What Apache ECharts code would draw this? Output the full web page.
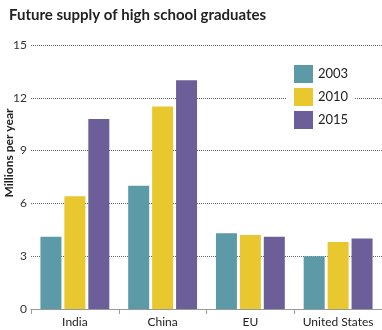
<!DOCTYPE html>
<html><head><meta charset="utf-8">
<script src="https://cdn.jsdelivr.net/npm/echarts@6/dist/echarts.min.js"></script>
<style>html,body{margin:0;padding:0;background:#fff}#c{width:382px;height:330px}</style>
</head><body><div id="c"></div>
<script>
const categories = ["India", "China", "EU", "United States"];
const years = ["2003", "2010", "2015"];
const v2003 = [4.1, 7.0, 4.3, 3.0];
const v2010 = [6.4, 11.5, 4.2, 3.8];
const v2015 = [10.8, 13.0, 4.1, 4.0];
const yTicks = [0, 3, 6, 9, 12, 15];
const colors = ["#5b9aa6", "#e8c72f", "#6c5e98"];
const font = "Lato";
const chart = echarts.init(document.getElementById('c'), null, {renderer: 'canvas'});
const seriesData = [v2003, v2010, v2015];
chart.setOption({
  animation: false,
  title: {text: "Future supply of high school graduates", left: 4, top: 3,
    textStyle: {fontFamily: font, fontWeight: 'bold', fontSize: 15, color: '#222'}},
  grid: {left: 31, right: 0, top: 45, bottom: 21},
  legend: {orient: 'vertical', left: 286, top: 57, padding: [8, 6, 8, 8], itemGap: 5,
    itemWidth: 19, itemHeight: 18, backgroundColor: '#fff', icon: 'rect',
    data: years, textStyle: {fontFamily: font, fontSize: 13, color: '#222'}},
  xAxis: {type: 'category', data: categories,
    axisLine: {lineStyle: {color: '#999'}},
    axisTick: {show: true, length: 5, lineStyle: {color: '#999'}},
    axisLabel: {interval: 0, fontFamily: font, fontSize: 12, color: '#222', margin: 7}},
  yAxis: {type: 'value', min: yTicks[0], max: yTicks[yTicks.length-1], interval: 3,
    axisLine: {show: false}, axisTick: {show: false},
    axisLabel: {fontFamily: font, fontSize: 12, color: '#333', margin: 4},
    splitLine: {lineStyle: {type: [1, 1], color: '#666'}}},
  graphic: [{type: 'text', x: 9, y: 153, rotation: Math.PI/2,
    style: {text: 'Millions per year', x: 0, y: 0, align: 'center', verticalAlign: 'middle',
      fontFamily: font, fontWeight: 'bold', fontSize: 12, fill: '#222'}}],
  series: years.map((y, i) => ({name: y, type: 'bar', data: seriesData[i], barWidth: 21, barGap: '14%',
    itemStyle: {color: colors[i]}}))
});
</script></body></html>
